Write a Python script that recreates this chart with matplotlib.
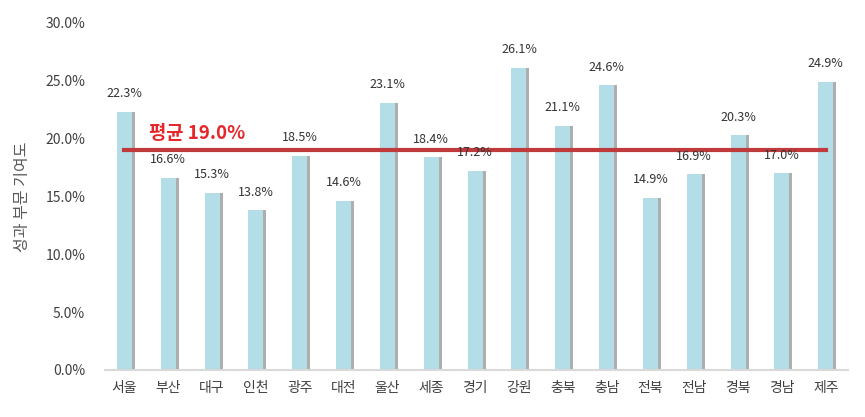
import matplotlib
matplotlib.use('Agg')
import matplotlib.pyplot as plt
import numpy as np
from matplotlib.ticker import FuncFormatter

plt.rcParams['font.family'] = ['Noto Sans CJK KR', 'DejaVu Sans']

regions = ['서울', '부산', '대구', '인천', '광주', '대전', '울산', '세종', '경기',
           '강원', '충북', '충남', '전북', '전남', '경북', '경남', '제주']
values = [22.3, 16.6, 15.3, 13.8, 18.5, 14.6, 23.1, 18.4, 17.2,
          26.1, 21.1, 24.6, 14.9, 16.9, 20.3, 17.0, 24.9]
average = 19.0
y_ticks = [0, 5, 10, 15, 20, 25, 30]

fig = plt.figure(figsize=(8.65, 4.17), dpi=100)
ax = fig.add_axes([0.121, 0.113, 0.859, 0.832])

x = np.arange(len(regions))
w = 0.34
# shadow behind each bar
ax.bar(x + 0.07, values, width=w, color='#9a9a9a', alpha=0.8, zorder=1)
ax.bar(x, values, width=w, color='#b3dde7', zorder=2)

for xi, v in zip(x, values):
    ax.text(xi, v + 1.0, f'{v:.1f}%', ha='center', va='bottom',
            fontsize=9, color='#333333', zorder=4)

ax.plot([x[0], x[-1]], [average, average], color='#c0393b', linewidth=3, zorder=3)
ax.text(0.55, average + 0.6, f'평균 {average:.1f}%', color='#e5262a',
        fontsize=13.5, fontweight='bold', ha='left', va='bottom', zorder=4)

ax.set_xlim(-0.45, len(regions) - 0.5)
ax.set_ylim(0, 30)
ax.set_yticks(y_ticks)
ax.yaxis.set_major_formatter(FuncFormatter(lambda v, p: f'{v:.1f}%'))
ax.set_xticks(x)
ax.set_xticklabels(regions)
ax.tick_params(axis='both', length=0, labelsize=10, colors='#404040')
ax.tick_params(axis='x', pad=8)
ax.tick_params(axis='y', pad=14)

for s in ['top', 'right', 'left']:
    ax.spines[s].set_visible(False)
ax.spines['bottom'].set_color('#d9d9d9')
ax.spines['bottom'].set_linewidth(1.5)

ax.set_ylabel('성과 부문 기여도', fontsize=11.5, color='#595959', labelpad=10)

fig.savefig('out.png', dpi=100)
